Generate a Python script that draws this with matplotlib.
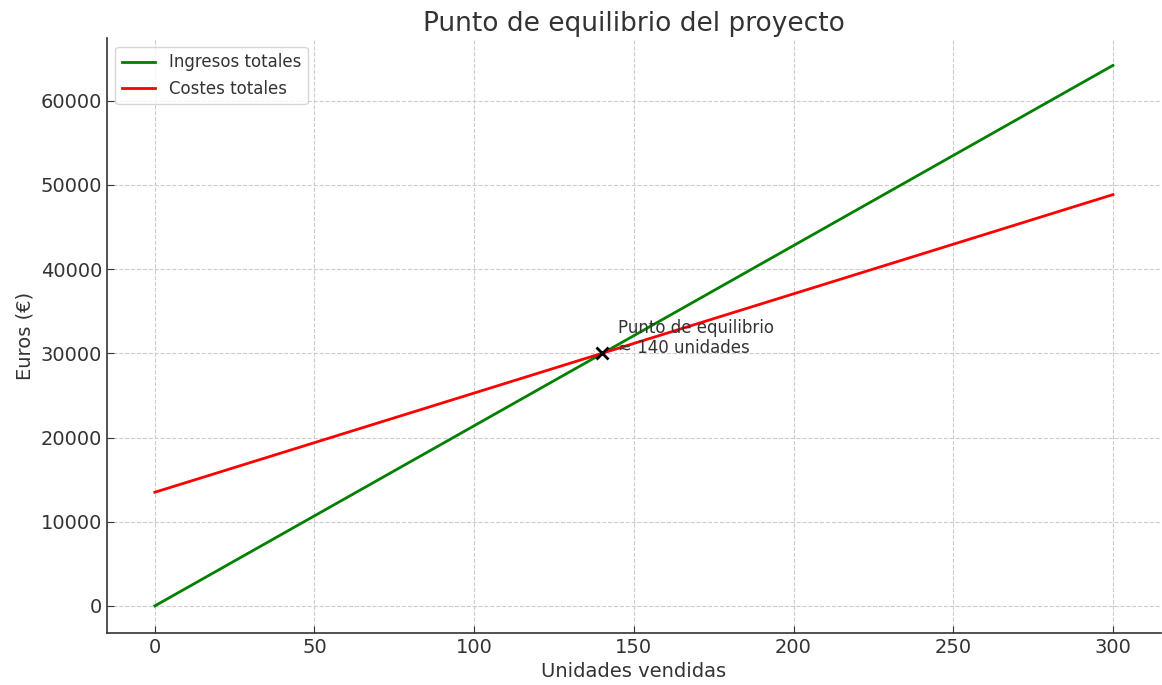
import numpy as np
import matplotlib.pyplot as plt

# Datos
unidades = np.array([0, 300])
ingresos = np.array([0, 64200])
costes = np.array([13500, 48850])
equilibrio_x = 140
equilibrio_y = 30000

plt.rcParams['font.family'] = 'DejaVu Sans'
plt.rcParams['text.color'] = '#333333'
plt.rcParams['axes.labelcolor'] = '#333333'
plt.rcParams['xtick.color'] = '#333333'
plt.rcParams['ytick.color'] = '#333333'

fig, ax = plt.subplots(figsize=(11.62, 6.85), dpi=100)

ax.plot(unidades, ingresos, color='green', linewidth=2, label='Ingresos totales')
ax.plot(unidades, costes, color='red', linewidth=2, label='Costes totales')
ax.plot(equilibrio_x, equilibrio_y, marker='x', color='black', markersize=8, markeredgewidth=2, linestyle='none')
ax.text(equilibrio_x + 5, equilibrio_y, 'Punto de equilibrio\n≈ 140 unidades', fontsize=12, color='#333333')

ax.set_title('Punto de equilibrio del proyecto', fontsize=19, color='#333333', pad=5)
ax.set_xlabel('Unidades vendidas', fontsize=14)
ax.set_ylabel('Euros (€)', fontsize=14)
ax.tick_params(axis='both', direction='in', labelsize=14, length=5)
ax.grid(True, linestyle='--', color='#cccccc', linewidth=0.8)
ax.spines['top'].set_visible(False)
ax.spines['right'].set_visible(False)
ax.spines['left'].set_color('#333333')
ax.spines['bottom'].set_color('#333333')
ax.spines['left'].set_linewidth(1.2)
ax.spines['bottom'].set_linewidth(1.2)
ax.legend(loc='upper left', fontsize=12)

plt.subplots_adjust(left=0.092, right=0.999, top=0.944, bottom=0.076)
plt.savefig('out.png', dpi=100)
